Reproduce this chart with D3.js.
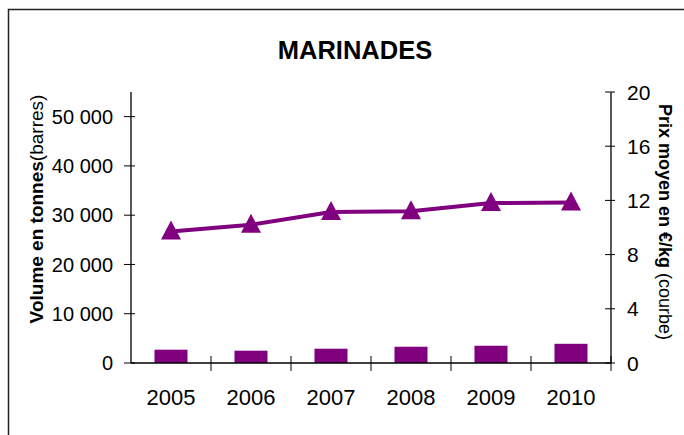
<!DOCTYPE html>
<html>
<head>
<meta charset="utf-8">
<script src="https://cdn.jsdelivr.net/npm/d3@7"></script>
<style>
  body { margin: 0; background: #fff; }
  text { font-family: Arial, "Liberation Sans", sans-serif; }
</style>
</head>
<body>
<svg></svg>
<script>
// Chart data
const years = ["2005", "2006", "2007", "2008", "2009", "2010"];
const volumes = [2700, 2500, 2900, 3300, 3500, 3900];
const prices = [9.7, 10.2, 11.15, 11.2, 11.8, 11.85];
const volumeTicks = [0, 10000, 20000, 30000, 40000, 50000];
const priceTicks = [0, 4, 8, 12, 16, 20];

const width = 684;
const height = 435;
const margin = { top: 92, right: 73, bottom: 72, left: 131 };
const purple = "#800080";

const svg = d3.select("svg").attr("width", width).attr("height", height);

// outer frame
svg.append("rect")
  .attr("x", 8.5).attr("y", 9.5)
  .attr("width", 700).attr("height", 460)
  .attr("fill", "none").attr("stroke", "#222").attr("stroke-width", 1.5);

// Scales
const x = d3.scaleBand().domain(years).range([margin.left, width - margin.right]);
const yLeft = d3.scaleLinear().domain([0, 55000]).range([height - margin.bottom, margin.top]);
const yRight = d3.scaleLinear().domain([0, 20]).range([height - margin.bottom, margin.top]);

const fmt = (d) => d3.format(",")(d).replace(/,/g, " ");

// Title
svg.append("text")
  .attr("x", 355).attr("y", 59)
  .attr("text-anchor", "middle")
  .style("font-size", "25.5px").style("font-weight", "bold")
  .text("MARINADES");

// Bars
const barW = 33;
svg.append("g").selectAll("rect")
  .data(volumes)
  .join("rect")
  .attr("x", (d, i) => x(years[i]) + x.bandwidth() / 2 - barW / 2)
  .attr("y", (d) => yLeft(d))
  .attr("width", barW)
  .attr("height", (d) => yLeft(0) - yLeft(d))
  .attr("fill", purple);

// Left axis
const gL = svg.append("g").attr("transform", `translate(${margin.left},0)`);
gL.append("line")
  .attr("y1", yLeft(0)).attr("y2", margin.top)
  .attr("stroke", "#000").attr("stroke-width", 1.3);
gL.selectAll(".tk").data(volumeTicks).join("line")
  .attr("x1", -7).attr("x2", 4)
  .attr("y1", (d) => yLeft(d)).attr("y2", (d) => yLeft(d))
  .attr("stroke", "#000");
gL.selectAll(".lb").data(volumeTicks).join("text")
  .attr("x", -18).attr("y", (d) => yLeft(d)).attr("dy", "0.36em")
  .attr("text-anchor", "end")
  .style("font-size", "20px")
  .text(fmt);

// Right axis
const gR = svg.append("g").attr("transform", `translate(${width - margin.right},0)`);
gR.append("line")
  .attr("y1", yRight(0)).attr("y2", margin.top)
  .attr("stroke", "#000").attr("stroke-width", 1.3);
gR.selectAll(".tk").data(priceTicks).join("line")
  .attr("x1", -6).attr("x2", 4)
  .attr("y1", (d) => yRight(d)).attr("y2", (d) => yRight(d))
  .attr("stroke", "#000");
gR.selectAll(".lb").data(priceTicks).join("text")
  .attr("x", 16).attr("y", (d) => yRight(d)).attr("dy", "0.36em")
  .style("font-size", "21px")
  .text((d) => d);

// Bottom axis
const gB = svg.append("g").attr("transform", `translate(0,${yLeft(0)})`);
gB.append("line")
  .attr("x1", margin.left).attr("x2", width - margin.right)
  .attr("stroke", "#000").attr("stroke-width", 1.3);
gB.selectAll(".tk").data(years).join("line")
  .attr("x1", (d) => x(d) + x.bandwidth())
  .attr("x2", (d) => x(d) + x.bandwidth())
  .attr("y1", -7).attr("y2", 8)
  .attr("stroke", "#000");
gB.selectAll(".lb").data(years).join("text")
  .attr("x", (d) => x(d) + x.bandwidth() / 2)
  .attr("y", 42)
  .attr("text-anchor", "middle")
  .style("font-size", "22px")
  .text((d) => d);

// Price line
const line = d3.line()
  .x((d, i) => x(years[i]) + x.bandwidth() / 2)
  .y((d) => yRight(d));

svg.append("path")
  .datum(prices)
  .attr("d", line)
  .attr("fill", "none")
  .attr("stroke", purple)
  .attr("stroke-width", 4);

svg.append("g").selectAll("path")
  .data(prices)
  .join("path")
  .attr("transform", (d, i) => `translate(${x(years[i]) + x.bandwidth() / 2},${yRight(d)})`)
  .attr("d", "M0,-11 L10,8 L-10,8 Z")
  .attr("fill", purple);

// Axis titles
const leftTitle = svg.append("text")
  .attr("transform", "translate(43,209) rotate(-90)")
  .attr("text-anchor", "middle")
  .style("font-size", "19px");
leftTitle.append("tspan").style("font-weight", "bold").text("Volume en tonnes");
leftTitle.append("tspan").text("(barres)");

const rightTitle = svg.append("text")
  .attr("transform", "translate(659,222) rotate(90)")
  .attr("text-anchor", "middle")
  .style("font-size", "18px");
rightTitle.append("tspan").style("font-weight", "bold").text("Prix moyen en  €/kg");
rightTitle.append("tspan").text(" (courbe)");
</script>
</body>
</html>
